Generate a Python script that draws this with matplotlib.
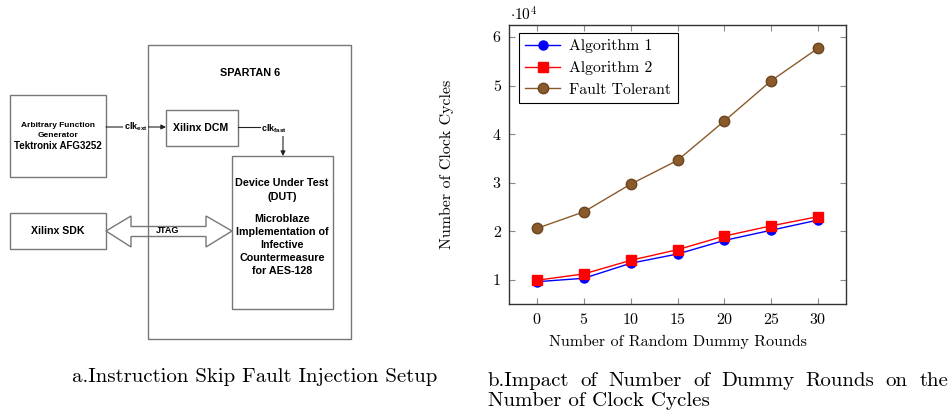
import matplotlib
matplotlib.use("Agg")
import matplotlib.pyplot as plt
from matplotlib.patches import Rectangle, Polygon
from matplotlib.ticker import FuncFormatter

plt.rcParams['font.family'] = 'cmr10'
plt.rcParams['mathtext.fontset'] = 'cm'
plt.rcParams['axes.formatter.use_mathtext'] = True
plt.rcParams['mathtext.rm'] = 'Liberation Sans'
plt.rcParams['mathtext.bf'] = 'Liberation Sans:bold'

# chart data (clock cycles vs dummy rounds)
rounds = [0, 5, 10, 15, 20, 25, 30]
algo1 = [9600, 10300, 13400, 15300, 18100, 20200, 22300]
algo2 = [9900, 11200, 14000, 16200, 19000, 21100, 23000]
fault_tolerant = [20600, 24000, 29700, 34600, 42700, 51000, 57700]
y_ticks = [10000, 20000, 30000, 40000, 50000, 60000]

W, H = 952, 415
fig = plt.figure(figsize=(W / 100, H / 100), dpi=100)

# overlay axes in pixel coordinates for the block diagram and captions
ov = fig.add_axes([0, 0, 1, 1])
ov.set_xlim(0, W)
ov.set_ylim(H, 0)
ov.axis('off')

box_col = '#777777'
sans = 'Liberation Sans'


def box(x0, y0, x1, y1):
    ov.add_patch(Rectangle((x0, y0), x1 - x0, y1 - y0, fill=False,
                           edgecolor=box_col, linewidth=1.0))


def label(x, y, s, size):
    return ov.text(x, y, s, family=sans, weight='bold', fontsize=size,
                   ha='center', va='center')


box(148, 45, 351, 339)      # SPARTAN 6
box(10, 95, 106, 177)       # function generator
box(166, 110, 238, 146)     # DCM
box(232, 156, 333, 309)     # DUT
box(10, 213, 106, 249)      # SDK

label(250, 73, 'SPARTAN 6', 7.8)
label(58, 125, 'Arbitrary Function', 6.0)
label(58, 135, 'Generator', 6.0)
label(58, 146, 'Tektronix AFG3252', 7.0)
label(201, 128, 'Xilinx DCM', 7.6)
label(58, 231, 'Xilinx SDK', 7.6)
label(282, 183, 'Device Under Test', 7.75)
label(282, 197, '(DUT)', 7.75)
for yy, s in zip([219, 232, 245, 258, 271],
                 ['Microblaze', 'Implementation of', 'Infective',
                  'Countermeasure', 'for AES-128']):
    label(282, yy, s, 7.75)

# clock arrows
ov.annotate('', xy=(166, 127), xytext=(106, 127),
            arrowprops=dict(arrowstyle='-|>', color='#222222', lw=0.8,
                            mutation_scale=7, shrinkA=0, shrinkB=0))
ov.text(135.5, 127, r'$\mathbf{clk}_{\mathbf{ext}}$', math_fontfamily='custom',
        fontsize=6.5, ha='center', va='center',
        bbox=dict(facecolor='white', edgecolor='none', pad=0.3))
ov.plot([238, 283], [127, 127], color='#222222', lw=0.8)
ov.annotate('', xy=(283, 156), xytext=(283, 127),
            arrowprops=dict(arrowstyle='-|>', color='#222222', lw=0.8,
                            mutation_scale=7, shrinkA=0, shrinkB=0))
ov.text(274, 129, r'$\mathbf{clk}_{\mathbf{fast}}$', math_fontfamily='custom',
        fontsize=6.5, ha='center', va='center',
        bbox=dict(facecolor='white', edgecolor='none', pad=0.3))

# hollow JTAG double arrow
jtag = [(106, 231), (131, 216), (131, 226.5), (206, 226.5), (206, 216),
        (232, 231), (206, 247), (206, 236.5), (131, 236.5), (131, 247)]
ov.add_patch(Polygon(jtag, closed=True, fill=False, edgecolor=box_col, lw=1.0))
label(168, 230.5, 'JTAG', 6.5)

# captions
cap_size = 15
ov.text(72, 377, 'a.Instruction Skip Fault Injection Setup',
        fontsize=cap_size, ha='left', va='center')
words = 'b.Impact of Number of Dummy Rounds on the'.split()
word_txt = [ov.text(488, 381, w, fontsize=cap_size, ha='left', va='center')
            for w in words]
ov.text(488, 401, 'Number of Clock Cycles', fontsize=cap_size,
        ha='left', va='center')

# line chart
ax = fig.add_axes([509 / W, (H - 304) / H, 337 / W, 279 / H])
ax.plot(rounds, algo1, color='blue', marker='o', markersize=6.5, lw=1.0,
        label='Algorithm 1')
ax.plot(rounds, algo2, color='red', marker='s', markersize=6.5, lw=1.0,
        label='Algorithm 2')
ax.plot(rounds, fault_tolerant, color='#8B5A2B', marker='o', markersize=7.5,
        markeredgecolor='#6b4420', lw=1.0, label='Fault Tolerant')

ax.set_xlim(-3, 33)
ax.set_ylim(5000, 62500)
ax.set_xticks(rounds)
ax.set_yticks(y_ticks)
ax.yaxis.set_major_formatter(FuncFormatter(lambda v, p: f'{v / 1e4:g}'))
ax.tick_params(direction='in', top=True, right=True, length=4,
               color='#8a8a8a', width=0.8, labelsize=11.5, pad=6)
for sp in ax.spines.values():
    sp.set_color('#333333')
    sp.set_linewidth(1.0)

ax.set_xlabel('Number of Random Dummy Rounds', fontsize=11.5)
ax.set_ylabel('Number of Clock Cycles', fontsize=11.5)
ax.xaxis.label.set_va('center')
ax.xaxis.set_label_coords(0.5, (304 - 342) / 279)
ax.yaxis.label.set_va('center')
ax.yaxis.set_label_coords(-(509 - 447) / 337, 0.5)
ov.text(510, 15, r'$\cdot10^4$', fontsize=11, ha='left', va='center')

leg = ax.legend(loc='upper left', bbox_to_anchor=(10 / 337, 1 - 8 / 279),
                borderaxespad=0, fancybox=False, framealpha=1,
                edgecolor='black', fontsize=11.3, handlelength=2.2,
                handletextpad=0.6)
leg.get_frame().set_linewidth(0.8)

# justify first caption line between x=488 and x=948
fig.canvas.draw()
r = fig.canvas.get_renderer()
widths = [t.get_window_extent(r).width for t in word_txt]
gap = (948 - 488 - sum(widths)) / (len(words) - 1)
x = 488
for t, w in zip(word_txt, widths):
    t.set_x(x)
    x += w + gap

fig.savefig('out.png', dpi=100)
